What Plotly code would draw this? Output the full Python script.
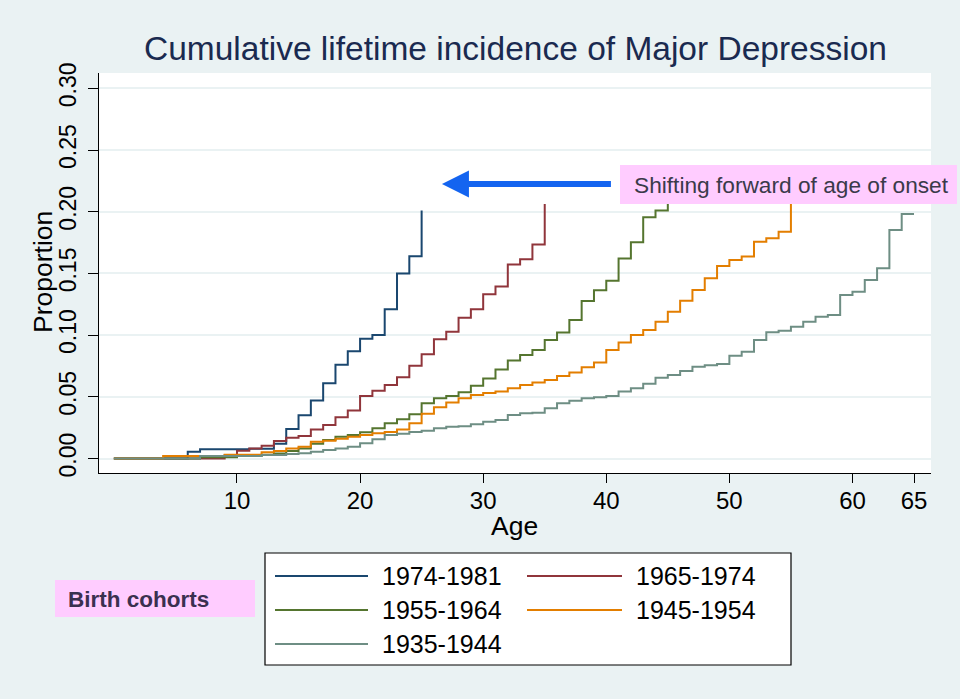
import plotly.graph_objects as go

# ---------------- data ----------------
cohorts = ["1974-1981", "1965-1974", "1955-1964", "1945-1954", "1935-1944"]
colors = ["#1A476F", "#90353B", "#55752F", "#E37E00", "#6E8E84"]

age_1974 = [0, 6, 7, 11, 13, 14, 15, 16, 17, 18, 19, 20, 21, 22, 23, 24, 25]
inc_1974 = [0, 0.0055, 0.0075, 0.008, 0.012, 0.024, 0.035, 0.047, 0.061, 0.076,
            0.087, 0.097, 0.100, 0.121, 0.150, 0.164, 0.201]

age_1965 = [0, 9, 10, 11, 12, 13, 14, 15, 16, 17, 18, 19, 20, 21, 22, 23, 24,
            25, 26, 27, 28, 29, 30, 31, 32, 33, 34, 35]
inc_1965 = [0, 0.0028, 0.0063, 0.0082, 0.0104, 0.0142, 0.0169, 0.0182, 0.0236,
            0.0271, 0.0334, 0.0388, 0.0506, 0.055, 0.0595, 0.0658, 0.0751,
            0.0844, 0.0966, 0.1028, 0.1141, 0.1209, 0.1331, 0.1393, 0.1573,
            0.1614, 0.1735, 0.2062]

age_1955 = [0, 7, 10, 12, 13, 14, 15, 16, 17, 18, 19, 20, 21, 22, 23, 24, 25,
            26, 27, 28, 29, 30, 31, 32, 33, 34, 35, 36, 37, 38, 39, 40, 41, 42,
            43, 44, 45]
inc_1955 = [0, 0.001, 0.002, 0.003, 0.004, 0.006, 0.0082, 0.012, 0.015, 0.0177,
            0.019, 0.0212, 0.0245, 0.0285, 0.0318, 0.0358, 0.0447, 0.0488,
            0.0506, 0.0536, 0.059, 0.0649, 0.0722, 0.0795, 0.0838, 0.0879,
            0.096, 0.1022, 0.1122, 0.1276, 0.1363, 0.1441, 0.162, 0.1752,
            0.1955, 0.2009, 0.212]

age_1945 = [0, 4, 9, 12, 13, 14, 15, 16, 17, 18, 19, 20, 21, 22, 23, 24, 25,
            26, 27, 28, 29, 30, 31, 32, 33, 34, 35, 36, 37, 38, 39, 40, 41, 42,
            43, 44, 45, 46, 47, 48, 49, 50, 51, 52, 53, 54, 55]
inc_1945 = [0, 0.002, 0.003, 0.005, 0.006, 0.0082, 0.0096, 0.0136, 0.0144,
            0.016, 0.0177, 0.019, 0.0204, 0.0215, 0.0236, 0.0285, 0.0362,
            0.0416, 0.0453, 0.0488, 0.0515, 0.053, 0.0542, 0.0569, 0.0596,
            0.0615, 0.0636, 0.0669, 0.0696, 0.0739, 0.0777, 0.0879, 0.0941,
            0.1001, 0.1041, 0.1109, 0.119, 0.1279, 0.1365, 0.146, 0.156,
            0.1609, 0.1636, 0.1757, 0.1784, 0.1838, 0.215]

age_1935 = [0, 7, 12, 14, 15, 16, 17, 18, 19, 20, 21, 22, 23, 24, 25, 26, 27,
            28, 29, 30, 31, 32, 33, 34, 35, 36, 37, 38, 39, 40, 41, 42, 43, 44,
            45, 46, 47, 48, 49, 50, 51, 52, 53, 54, 55, 56, 57, 58, 59, 60, 61,
            62, 63, 64, 65]
inc_1935 = [0, 0.002, 0.0028, 0.0036, 0.0042, 0.0055, 0.0069, 0.0082, 0.0096,
            0.0123, 0.0156, 0.019, 0.0201, 0.0214, 0.0225, 0.0245, 0.0258,
            0.0262, 0.0277, 0.0298, 0.0312, 0.0353, 0.0366, 0.037, 0.0407,
            0.0447, 0.0468, 0.0488, 0.0496, 0.0506, 0.0542, 0.0569, 0.0606,
            0.0654, 0.0676, 0.071, 0.0744, 0.0755, 0.0766, 0.0833, 0.0866,
            0.096, 0.1023, 0.1036, 0.1068, 0.1109, 0.1149, 0.1163, 0.1325,
            0.1352, 0.1447, 0.1541, 0.1852, 0.1981, 0.1981]

ages = [age_1974, age_1965, age_1955, age_1945, age_1935]
incs = [inc_1974, inc_1965, inc_1955, inc_1945, inc_1935]

x_ticks = [10, 20, 30, 40, 50, 60, 65]
y_ticks = [0, 0.05, 0.10, 0.15, 0.20, 0.25, 0.30]
y_tick_labels = ["0.00", "0.05", "0.10", "0.15", "0.20", "0.25", "0.30"]

title_text = "Cumulative lifetime incidence of Major Depression"
x_title = "Age"
y_title = "Proportion"
note_text = "Shifting forward of age of onset"
legend_title = "Birth cohorts"

# ---------------- layout constants ----------------
W, H = 960, 699
ML, MR, MT, MB = 99, 29, 73, 226
PW, PH = W - ML - MR, H - MT - MB
BG = "#EAF2F3"
FONT = "Liberation Sans, Arial, sans-serif"


def px(xpix):
    return (xpix - ML) / PW


def py(ypix):
    return (H - MB - ypix) / PH


fig = go.Figure()
for name, col, a, v in zip(cohorts, colors, ages, incs):
    fig.add_trace(go.Scatter(x=a, y=v, mode="lines", name=name,
                             line=dict(color=col, width=2, shape="hv"),
                             showlegend=False, hoverinfo="skip"))

shapes = []
annotations = []

# manual legend
shapes.append(dict(type="rect", xref="paper", yref="paper",
                   x0=px(265), x1=px(791), y0=py(553), y1=py(665),
                   line=dict(color="black", width=1.2), fillcolor="white",
                   layer="above"))
col_line = [(275, 368), (527, 622)]
col_text = [380, 634]
for i, (name, col) in enumerate(zip(cohorts, colors)):
    r, c = divmod(i, 2)
    yy = 576 + 34 * r
    shapes.append(dict(type="line", xref="paper", yref="paper",
                       x0=px(col_line[c][0]), x1=px(col_line[c][1]),
                       y0=py(yy), y1=py(yy), line=dict(color=col, width=2),
                       layer="above"))
    annotations.append(dict(xref="paper", yref="paper", x=px(col_text[c]),
                            y=py(yy), text=name, showarrow=False,
                            xanchor="left", yanchor="middle",
                            font=dict(family=FONT, size=25, color="black")))

# "Birth cohorts" box
shapes.append(dict(type="rect", xref="paper", yref="paper",
                   x0=px(55), x1=px(255), y0=py(580), y1=py(617),
                   line=dict(width=0), fillcolor="#FFCCFF", layer="above"))
annotations.append(dict(xref="paper", yref="paper", x=px(66), y=py(599),
                        text="<b>" + legend_title + "</b>", showarrow=False,
                        xanchor="left", yanchor="middle",
                        font=dict(family=FONT, size=22.5, color="#3A3050")))

# note box
shapes.append(dict(type="rect", xref="paper", yref="paper",
                   x0=px(620), x1=px(957), y0=py(165), y1=py(204),
                   line=dict(width=0), fillcolor="#FFCCFF", layer="above"))
annotations.append(dict(xref="paper", yref="paper", x=px(632), y=py(185),
                        text=note_text, showarrow=False,
                        xanchor="left", yanchor="middle",
                        font=dict(family=FONT, size=22.7, color="#3A3A4A")))

# arrow
arrow_tip = (26.65, 0.2225)
arrow_tail = (40.5, 0.2225)
annotations.append(dict(x=arrow_tip[0], y=arrow_tip[1], xref="x", yref="y",
                        ax=arrow_tail[0], ay=arrow_tail[1], axref="x", ayref="y",
                        text="", showarrow=True, arrowhead=2, arrowsize=0.9,
                        arrowwidth=6, arrowcolor="#1464F0"))

# title and axis titles
annotations.append(dict(xref="paper", yref="paper", x=0.5, y=py(49),
                        text=title_text, showarrow=False,
                        xanchor="center", yanchor="middle",
                        font=dict(family=FONT, size=33.5, color="#1A2A50")))
annotations.append(dict(xref="paper", yref="paper", x=px(514), y=py(526),
                        text=x_title, showarrow=False,
                        xanchor="center", yanchor="middle",
                        font=dict(family=FONT, size=26.5, color="black")))
annotations.append(dict(xref="paper", yref="paper", x=px(43), y=py(272),
                        text=y_title, showarrow=False, textangle=-90,
                        xanchor="center", yanchor="middle",
                        font=dict(family=FONT, size=26.5, color="black")))

fig.update_layout(
    width=W, height=H,
    margin=dict(l=ML, r=MR, t=MT, b=MB, pad=0),
    paper_bgcolor=BG, plot_bgcolor="white",
    font=dict(family=FONT, color="black"),
    shapes=shapes, annotations=annotations,
    showlegend=False,
)
fig.update_xaxes(range=[-1.21, 66.38], tickvals=x_ticks, ticks="outside",
                 ticklen=9, tickwidth=1.2, tickcolor="black",
                 showline=True, linecolor="black", linewidth=1.2,
                 showgrid=False, zeroline=False, ticklabelstandoff=-3,
                 tickfont=dict(family=FONT, size=24, color="black"))
fig.update_yaxes(range=[-0.01175, 0.3124], tickvals=y_ticks,
                 ticktext=y_tick_labels, tickangle=-90, ticks="outside",
                 ticklen=10, tickwidth=1.2, tickcolor="black",
                 showline=True, linecolor="black", linewidth=1.2,
                 showgrid=True, gridcolor=BG, gridwidth=1.5, zeroline=False,
                 ticklabelstandoff=3,
                 tickfont=dict(family=FONT, size=23, color="black"))

fig.write_html("out.html")
